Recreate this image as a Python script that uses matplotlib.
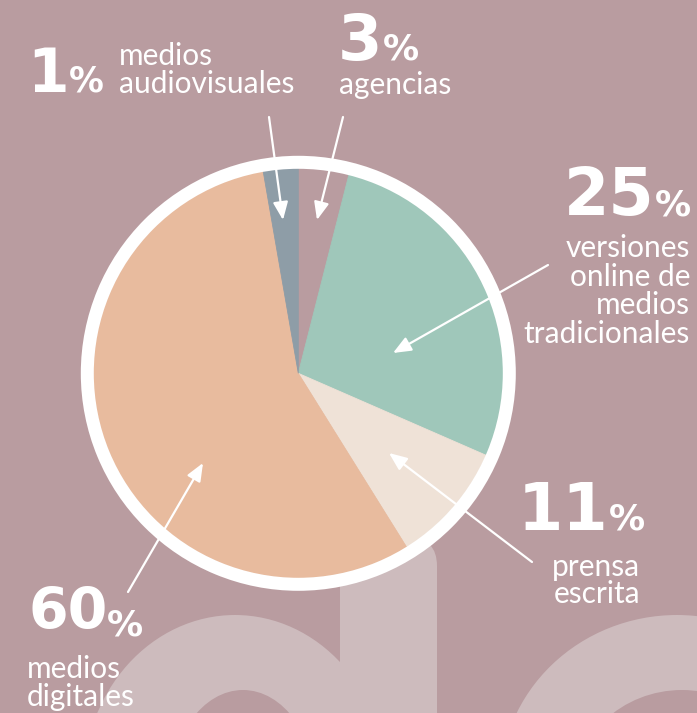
import matplotlib
matplotlib.use("Agg")
import matplotlib.pyplot as plt
from matplotlib.patches import Ellipse, Wedge, FancyBboxPatch

W, H = 697, 713  # figure size in pixels
BG = "#b99ca0"
DECOR = "#cdbbbd"

# slice data, clockwise from 12 o'clock (shares)
categories = ["agencias", "versiones online de medios tradicionales",
              "prensa escrita", "medios digitales", "medios audiovisuales"]
shares = [3.97, 27.58, 9.58, 56.13, 2.74]
pct_labels = ["3", "25", "11", "60", "1"]
colors = [BG, "#9fc7ba", "#efe2d7", "#e8bb9e", "#8e9da7"]

fig = plt.figure(figsize=(W / 100, H / 100), dpi=100, facecolor=BG)
ax = fig.add_axes([0, 0, 1, 1])
ax.set_facecolor(BG)

def Y(y):
    # image rows -> data y (y axis points up)
    return H - y

# big decorative letters behind everything
ax.add_patch(Ellipse((235, Y(785)), 304, 340, color=DECOR, lw=0, zorder=0))
ax.add_patch(Ellipse((243, Y(795)), 148, 210, color=BG, lw=0, zorder=0.1))
ax.add_patch(Ellipse((677, Y(785)), 354, 340, color=DECOR, lw=0, zorder=0))
ax.add_patch(Ellipse((682, Y(795)), 220, 210, color=BG, lw=0, zorder=0.1))
ax.add_patch(FancyBboxPatch((340, -60), 97, Y(538) + 60,
                            boxstyle="round,pad=0,rounding_size=28",
                            color=DECOR, lw=0, zorder=0.2))

# pie
cx, cy, r = 298.3, Y(373.3), 205
wedges, _ = ax.pie(shares, colors=colors, startangle=90, counterclock=False,
                   center=(cx, cy), radius=r, frame=True,
                   wedgeprops=dict(linewidth=0.6, zorder=1))
for w in wedges:
    w.set_edgecolor(w.get_facecolor())
ax.add_patch(Wedge((cx, cy), 217.5, 0, 360, width=13, color="white", lw=0, zorder=2))

# arrows: (start, tip) in image pixels
arrows = [((269, 117), (283, 220)),
          ((343, 117), (317, 220)),
          ((548, 265), (393, 353)),
          ((532, 562), (389, 453)),
          ((128, 592), (203, 463))]
for (x0, y0), (x1, y1) in arrows:
    ax.annotate("", xy=(x1, Y(y1)), xytext=(x0, Y(y0)),
                arrowprops=dict(arrowstyle="-|>,head_length=0.6,head_width=0.25",
                                color="white", lw=1.6, mutation_scale=18,
                                shrinkA=0, shrinkB=0), zorder=3)

ax.set_xlim(0, W)
ax.set_ylim(0, H)
ax.set_aspect("equal")
ax.axis("off")

NUM_FONT = dict(family="DejaVu Sans", weight="bold", color="white")
LAB_FONT = dict(family=["Lato", "DejaVu Sans"], weight="normal", color="white", fontsize=21.5)

renderer = fig.canvas.get_renderer()

def big_pct(num, x, y_base, size, pct_size=26, pct_base=None):
    t = ax.text(x, Y(y_base), num, fontsize=size, va="baseline", ha="left", **NUM_FONT, zorder=4)
    bb = t.get_window_extent(renderer)
    xr = ax.transData.inverted().transform((bb.x1, 0))[0]
    if pct_base is None:
        pct_base = y_base
    ax.text(xr, Y(pct_base), "%", fontsize=pct_size, va="baseline", ha="left", **NUM_FONT, zorder=4)

def lines(texts, x, y_first, step, align):
    for i, s in enumerate(texts):
        ax.text(x, Y(y_first + i * step), s, va="baseline", ha=align, **LAB_FONT, zorder=4)

# 1% medios audiovisuales
big_pct(pct_labels[4], 27, 92, 43, 25)
lines(["medios", "audiovisuales"], 119, 65, 28, "left")
# 3% agencias
big_pct(pct_labels[0], 338, 60, 46, 26)
lines(["agencias"], 339, 94, 28, "left")
# 25% versiones online
big_pct(pct_labels[1], 564, 215, 47, 26)
lines(["versiones", "online de", "medios", "tradicionales"], 690, 257, 28.7, "right")
# 11% prensa escrita
big_pct(pct_labels[2], 518, 530, 47, 26)
lines(["prensa", "escrita"], 640, 576, 27, "right")
# 60% medios digitales
big_pct(pct_labels[3], 28, 629, 41, 26, 635)
lines(["medios", "digitales"], 27, 678, 28, "left")

fig.savefig("out.png", dpi=100, facecolor=BG)
